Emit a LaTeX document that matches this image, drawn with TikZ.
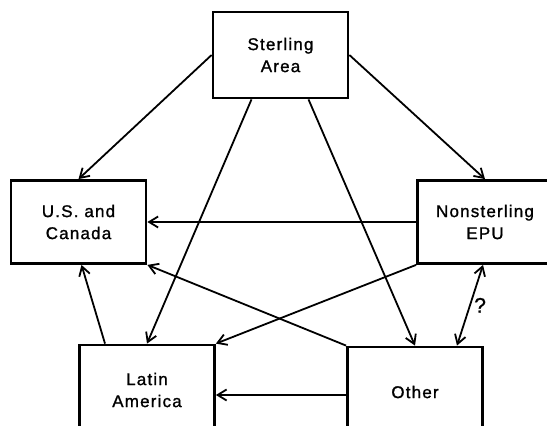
\documentclass[tikz,border=0pt]{standalone}
\usepackage{fontspec}
\setsansfont[LetterSpace=7, FakeBold=1.2]{Liberation Sans}
\usetikzlibrary{arrows.meta, positioning}

\begin{document}
\begin{tikzpicture}[x=1pt, y=-1pt, >={Straight Barb[length=9pt,width=11pt]}, font=\sffamily\fontsize{17}{22}\selectfont, line width=1.8pt]
            % Define the style for the blocks
            \tikzstyle{block} = [rectangle, draw, line width=2.8pt, minimum width=135pt, text centered, align=center]

            \clip (0,0) rectangle (547,426);

            % Nodes position
            \node [block, minimum height=86pt] (sterling) at (280.5,55) {Sterling\\Area};
            \node [block, minimum height=83pt] (us) at (78.5,222) {U.S. and\\Canada};
            \node [block, minimum height=83pt] (epu) at (485,222) {Nonsterling\\EPU};
            \node [block, minimum height=90pt] (latin) at (147,390) {Latin\\America};
            \node [block, minimum height=90pt] (other) at (415,392) {Other};

            % Arrows
            \draw[->] (sterling.west) -- (us.north);
            \draw[->] (sterling.east) -- (epu.north);
            \draw[->] ([xshift=-29pt]sterling.south) -- (latin.north);
            \draw[->] ([xshift=28pt]sterling.south) -- (other.north);
            \draw[->] (epu.west) -- (us.east);
            \draw[->] (epu.south west) -- (latin.north east);
            \draw[->] (other.north west) -- (us.south east);
            \draw[->] ([xshift=-42pt]latin.north) -- ([xshift=3pt]us.south);
            \draw[->] ([yshift=-3pt]other.west) -- ([yshift=-3pt]other.west -| latin.east);
            \draw[<->] ([xshift=-2pt]epu.south) -- ([xshift=42pt]other.north) node[midway, right=0pt, font=\sffamily\fontsize{21}{24}\selectfont] {?};
        \end{tikzpicture}
\end{document}
